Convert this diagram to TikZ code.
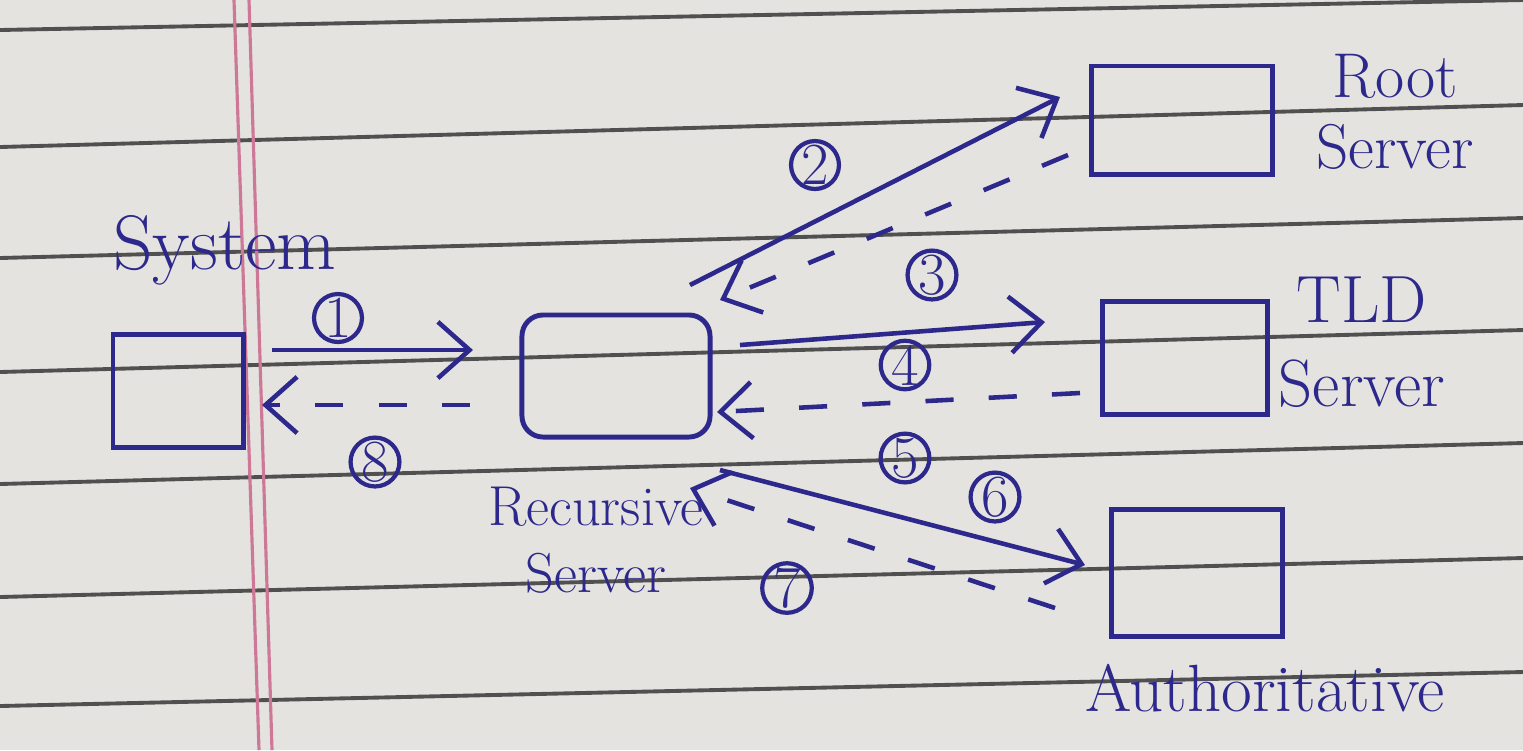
\documentclass[tikz,border=0pt]{standalone}
\usepackage{tikz}
\usetikzlibrary{arrows.meta}
\definecolor{ink}{RGB}{45,40,140}
\definecolor{paper}{RGB}{229,227,223}
\definecolor{ruling}{RGB}{80,80,80}
\definecolor{margin}{RGB}{205,120,150}
\begin{document}
\begin{tikzpicture}[x=0.01cm,y=-0.01cm,
    box/.style={draw=ink,line width=1.4pt,inner sep=0pt},
    tag/.style={text=ink,font=\fontsize{19}{20}\selectfont,align=center},
    num/.style={circle,draw=ink,line width=1.2pt,text=ink,inner sep=0pt,minimum size=0.46cm,font=\fontsize{17}{17}\selectfont},
    go/.style={draw=ink,line width=1.3pt,-{Straight Barb[length=9pt,width=16pt]}},
    back/.style={go,dash pattern=on 8pt off 10pt}]
    %--- paper ---
    \fill[paper] (0,0) rectangle (1523,750);
    \useasboundingbox (0,0) rectangle (1523,750);
    \foreach \l/\r in {30/0,147/105,258/218,372/330,484/443,597/558,706/672}
      \draw[ruling,line width=1.1pt] (0,\l) -- (1523,\r);
    \draw[margin,line width=0.9pt] (234,0) -- (259,750);
    \draw[margin,line width=0.9pt] (249,0) -- (272,750);
    %--- boxes ---
    \node[box,minimum width=1.30cm,minimum height=1.13cm] (sys) at (178,391) {};
    \node[box,rounded corners=6pt,minimum width=1.88cm,minimum height=1.22cm] (rec) at (616,376) {};
    \node[box,minimum width=1.80cm,minimum height=1.08cm] (root) at (1182,120) {};
    \node[box,minimum width=1.64cm,minimum height=1.13cm] (tld) at (1185,358) {};
    \node[box,minimum width=1.71cm,minimum height=1.27cm] (auth) at (1197,573) {};
    %--- labels ---
    \node[tag,font=\fontsize{22}{22}\selectfont] (syslbl) at (225,250) {System};
    \node[tag,font=\fontsize{16}{16}\selectfont] (reclbl) at (596,540) {Recursive\\[3pt]Server};
    \node[tag,font=\fontsize{18}{20}\selectfont] (rootlbl) at (1395,112) {Root\\Server};
    \node[tag] (tldlbl) at (1362,342) {TLD\\[4pt]Server};
    \node[tag] (authlbl) at (1265,688) {Authoritative};
    %--- arrow ends ---
    \coordinate (p1) at (272,350); \coordinate (q1) at (473,350);
    \coordinate (p2) at (690,285); \coordinate (q2) at (1060,97);
    \coordinate (p3) at (1068,155); \coordinate (q3) at (720,300);
    \coordinate (p4) at (740,345); \coordinate (q4) at (1045,322);
    \coordinate (p5) at (1080,393); \coordinate (q5) at (717,412);
    \coordinate (p6) at (720,470); \coordinate (q6) at (1085,565);
    \coordinate (p7) at (1055,608); \coordinate (q7) at (690,488);
    \coordinate (p8) at (470,405); \coordinate (q8) at (262,405);
    %--- requests (solid) and replies (dashed) ---
    \draw[go] (p1) -- (q1);
    \draw[go] (p2) -- (q2);
    \draw[back] (p3) -- (q3);
    \draw[go] (p4) -- (q4);
    \draw[back] (p5) -- (q5);
    \draw[go] (p6) -- (q6);
    \draw[back] (p7) -- (q7);
    \draw[back] (p8) -- (q8);
    %--- step numbers ---
    \node[num] (n1) at (338,318) {1};
    \node[num] (n2) at (815,165) {2};
    \node[num] (n3) at (932,275) {3};
    \node[num] (n4) at (905,365) {4};
    \node[num] (n5) at (905,458) {5};
    \node[num] (n6) at (995,497) {6};
    \node[num] (n7) at (787,588) {7};
    \node[num] (n8) at (375,462) {8};
\end{tikzpicture}
\end{document}
